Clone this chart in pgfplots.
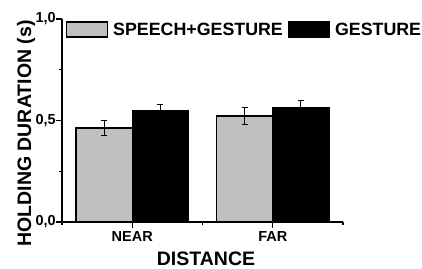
\documentclass[border=0pt]{standalone}
\usepackage{fontspec}
\setmainfont{Liberation Sans}
\usepackage{pgfplots}
\pgfplotsset{compat=1.18}
\definecolor{bargray}{RGB}{192,192,192}
\begin{document}
\begin{tikzpicture}
\useasboundingbox (-62pt,-46pt) rectangle (360pt,222pt);
\begin{axis}[
  at={(0pt,0pt)}, anchor=south west,
  width=281pt, height=203pt, scale only axis,
  xmin=-0.5, xmax=1.5, ymin=0, ymax=1,
  axis x line*=bottom, axis y line*=left,
  axis line style={line width=1.3pt},
  every tick/.style={black, line width=1.1pt},
  tick align=outside,
  major tick length=5.5pt, minor tick length=2.5pt,
  xtick={0,1}, xticklabels={NEAR,FAR},
  minor xtick={-0.5,0.5,1.5},
  ytick={0,0.5,1}, yticklabels={{0,0},{0,5},{1,0}},
  minor ytick={0.25,0.75},
  tick label style={font=\bfseries\fontsize{14.5}{16}\selectfont},
  yticklabel style={inner sep=0pt, anchor=east, xshift=-0.5pt},
  xticklabel style={inner sep=0pt, anchor=north, yshift=-4pt},
  xlabel={DISTANCE}, ylabel={HOLDING DURATION (s)},
  label style={font=\bfseries\fontsize{19.5}{21}\selectfont, inner sep=0pt},
  xlabel style={at={(axis description cs:0.5125,-0.2118)}, anchor=base},
  ylabel style={at={(axis description cs:-0.1103,0.436)}, anchor=base, rotate=0},
  ybar, bar width=0.4,
  legend image code/.code={\draw[#1, line width=1.2pt] (0pt,-7.5pt) rectangle (41pt,7.5pt);},
  legend columns=2,
  legend style={at={(axis description cs:0.0142,0.948)}, anchor=west, draw=none, fill=none,
    inner sep=0pt, outer sep=0pt,
    font=\bfseries\fontsize{17.8}{19}\selectfont,
    nodes={inner xsep=5pt, inner ysep=0pt}},
  clip=false,
]
\addplot[fill=bargray, draw=black, line width=1.3pt, bar shift=-0.2,
  error bars/.cd, y dir=both, y explicit,
  error bar style={line width=1.1pt, black},
  error mark options={rotate=90, mark size=3pt, line width=1.1pt, black}]
  coordinates {(0,0.463) +- (0,0.039) (1,0.522) +- (0,0.041)};
\addlegendentry{SPEECH+GESTURE}
\addplot[fill=black, draw=black, line width=1.3pt, bar shift=0.2,
  error bars/.cd, y dir=both, y explicit,
  error bar style={line width=1.1pt, black},
  error mark options={rotate=90, mark size=3pt, line width=1.1pt, black}]
  coordinates {(0,0.547) +- (0,0.030) (1,0.562) +- (0,0.036)};
\addlegendentry{GESTURE}
\end{axis}
\end{tikzpicture}
\end{document}
